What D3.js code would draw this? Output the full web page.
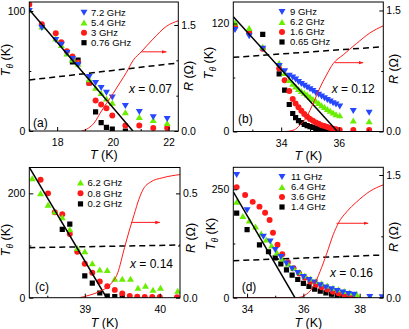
<!DOCTYPE html>
<html lang="en">
<head>
<meta charset="UTF-8">
<title>T_theta vs T, four dopings</title>
<script src="https://d3js.org/d3.v7.min.js"></script>
<style>
  body { margin: 0; background: #fff; }
  svg { display: block; font-family: "Liberation Sans", Arial, Helvetica, sans-serif; }
</style>
</head>
<body>
<svg id="chart" width="409" height="329"></svg>
<script>
// ---- panel (a), x = 0.07 ----
const aLabels = ["7.2 GHz", "5.4 GHz", "3 GHz", "0.76 GHz"];
const a72 = [[17.0,100],[17.45,86],[17.95,76],[18.15,72],[18.35,65],[18.55,60],[18.75,55],[19.15,45],[19.38,40],[19.58,36],[19.77,32],[19.98,28],[20.45,21],[20.95,16],[21.45,11.5],[21.95,10]];
const a54 = [[17.0,101],[17.45,87],[17.95,77],[18.15,71.5],[18.35,64.5],[18.55,59.5],[18.75,56],[19.15,43],[19.38,36],[19.58,31.5],[19.77,27],[19.98,23.5],[20.45,15.5],[20.95,11.5],[21.45,9],[21.95,6.5]];
const a3 = [[17.0,105.5],[17.45,89],[17.95,81.5],[18.15,74],[18.35,66.5],[18.55,62],[18.75,57],[19.15,40],[19.38,25.5],[19.58,22],[19.77,19],[19.98,13],[20.45,4.5],[20.95,4.5],[21.45,2.5],[21.95,2.5]];
const a076 = [[18.55,57.5],[18.75,59],[19.15,40],[19.38,16],[19.58,7],[19.77,3],[19.98,1.5],[20.45,0]];
const aFit = [[17.0,101],[20.72,0]];
const aDash = [[17.0,42.5],[22.35,56.7]];
const aR = [[18.88,0],[19.12,0.04],[19.36,0.13],[19.54,0.25],[19.77,0.39],[20.01,0.53],[20.25,0.68],[20.49,0.83],[20.73,1.0],[21.02,1.12],[21.44,1.3],[21.92,1.48],[22.35,1.56]];

// ---- panel (b), x = 0.12 ----
const bLabels = ["9 GHz", "6.2 GHz", "1.6 GHz", "0.65 GHz"];
const b9 = [[32.4,113],[32.89,106],[33.36,92],[33.93,73],[34.12,67],[34.28,62],[34.4,60],[34.5,58],[34.6,55],[34.7,53],[34.8,51],[34.9,49],[35.0,47],[35.1,45],[35.2,43],[35.3,41],[35.4,39],[35.5,37],[35.6,35],[35.7,33.5],[35.8,31.5],[35.9,30],[36.03,28],[36.5,23],[37.05,21]];
const b62 = [[32.4,121],[32.89,115],[33.36,94],[33.93,76],[34.12,65],[34.28,57],[34.4,53],[34.5,50],[34.6,47],[34.7,45],[34.8,43],[34.9,41],[35.0,38.5],[35.1,36],[35.2,34],[35.3,31.5],[35.4,29],[35.5,27],[35.6,25],[35.7,23],[35.8,21],[35.9,19],[36.03,18],[36.5,12],[37.05,11.3]];
const b16 = [[32.4,117],[32.89,110],[33.36,92],[33.93,70],[34.12,57],[34.28,45],[34.4,36],[34.5,31],[34.6,27],[34.7,23],[34.8,19.5],[34.9,16.5],[35.0,14],[35.1,12],[35.2,10],[35.3,8.5],[35.4,7],[35.5,6],[35.6,5],[35.7,4],[35.8,3.2],[35.9,2.6],[36.03,1.8],[36.5,1.7],[37.05,1.7]];
const b065 = [[33.36,108],[33.93,64],[34.12,46],[34.28,30],[34.4,20],[34.5,15.5],[34.6,12],[34.7,10],[34.8,8],[34.9,6.5],[35.0,5.5],[35.1,4.5],[35.2,3.5],[35.3,2.8],[35.4,2.2],[35.5,1.6],[35.6,1.2],[35.7,0.8],[35.8,0.5],[35.9,0.3]];
const bFit = [[32.34,127.5],[35.95,0]];
const bDash = [[32.34,82.4],[37.54,94.2]];
const bR = [[32.34,0],[34.11,0],[34.45,0.02],[34.65,0.08],[34.88,0.18],[35.11,0.35],[35.34,0.54],[35.57,0.7],[35.8,0.84],[36.15,0.95],[36.61,1.09],[37.07,1.22],[37.54,1.31]];

// ---- panel (c), x = 0.14 ----
const cLabels = ["6.2 GHz", "0.8 GHz", "0.2 GHz"];
const c62 = [[38.3,229],[38.41,200],[38.51,178],[38.6,165],[38.7,154],[38.8,131],[38.9,95],[39.0,89],[39.1,66],[39.2,54],[39.3,53],[39.4,36],[39.5,36],[39.61,36],[39.71,19],[39.81,22.5],[39.91,15],[40.01,19],[40.24,13]];
const c08 = [[38.41,226],[38.51,200],[38.6,164],[38.7,160],[38.8,122],[38.9,88],[39.0,65],[39.1,48],[39.2,31],[39.3,22],[39.4,15],[39.5,8],[39.6,3.5],[39.7,2],[39.8,1.5],[39.9,1.5],[40.0,1.5],[40.23,1]];
const c02 = [[38.7,131],[38.8,141],[39.0,42],[39.1,28],[39.2,9],[39.3,3],[39.4,2],[39.5,1]];
const cFit = [[38.26,250],[39.29,0]];
const cDash = [[38.26,95.8],[40.27,101]];
const cR = [[38.93,0],[39.07,0.013],[39.2,0.03],[39.33,0.06],[39.44,0.12],[39.53,0.24],[39.6,0.33],[39.66,0.4],[39.72,0.47],[39.78,0.52],[39.88,0.555],[40.04,0.575],[40.27,0.59]];

// ---- panel (d), x = 0.16 ----
const dLabels = ["11 GHz", "6.4 GHz", "3.6 GHz", "1.4 GHz"];
const d11 = [[33.63,283],[34.0,202],[34.58,141],[34.82,130],[35.0,110],[35.2,94],[35.4,79],[35.6,67],[35.8,57],[36.0,48],[36.2,41],[36.4,35],[36.6,29],[36.8,24],[37.0,19.5],[37.2,15.5],[37.4,12],[37.6,9],[37.8,7],[38.36,2],[38.8,1]];
const d64 = [[33.63,221],[33.85,188],[34.08,178],[34.3,164],[34.5,148],[34.68,134],[34.87,120],[35.06,104],[35.25,90],[35.45,78],[35.65,68],[35.85,59],[36.05,51],[36.25,44],[36.45,38],[36.65,33],[36.85,28],[37.05,23],[37.25,19],[37.45,15],[37.65,12],[37.89,8.5],[38.36,2.3],[38.8,0.5]];
const d36 = [[33.63,255],[33.93,237],[34.2,221],[34.44,210],[34.64,196],[34.8,179],[34.92,150],[35.08,122],[35.25,100],[35.45,82],[35.65,68],[35.85,56],[36.05,46],[36.25,37],[36.45,30],[36.65,24],[36.85,19],[37.05,14],[37.25,10],[37.45,7],[37.65,5],[37.85,3]];
const d14 = [[33.63,195],[34.0,157],[34.44,122],[34.76,106],[35.0,92],[35.2,78],[35.4,64],[35.6,52],[35.8,42],[36.0,33],[36.2,26],[36.4,20],[36.6,15],[36.8,11],[37.0,8],[37.2,5],[37.4,3.5],[37.6,2],[37.8,1]];
const dFit = [[33.51,244],[35.7,0]];
const dDash = [[33.51,85.3],[38.84,98.5]];
const dR = [[33.51,0],[35.76,0],[36.12,0.045],[36.35,0.135],[36.59,0.318],[36.83,0.54],[37.06,0.77],[37.24,0.91],[37.54,1.05],[37.89,1.17],[38.36,1.3],[38.84,1.38]];

const BLUE = "#2646ff", GREEN = "#6aee00", RED = "#ff1a1a";

const shapes = {
  down: "M-3.5,-2.9L3.5,-2.9L0,3.1Z",
  up: "M-3.5,2.9L3.5,2.9L0,-3.1Z",
  circle: d3.symbol(d3.symbolCircle, 28)(),
  square: "M-2.6,-2.6H2.6V2.6H-2.6Z"
};

const panels = [
  { id: "a", left: 29.3, right: 178.3, top: 2, bottom: 131,
    xDomain: [17, 22.35], yDomain: [0, 107.5], rDomain: [0, 1.825],
    xMajor: [18, 20, 22], xMinor: [17, 19, 21], yMajor: [0, 100], yMinor: [50],
    rMajor: [0, 1.5], rMinor: [0.5, 1.0], xPad: 8, titleDy: 28,
    series: [
      { data: a72, shape: "down", color: BLUE },
      { data: a54, shape: "up", color: GREEN },
      { data: a3, shape: "circle", color: RED },
      { data: a076, shape: "square", color: "#000" }
    ],
    labels: aLabels, legend: { mx: 84, tx: 91, y: 12.7, step: 10 },
    fit: aFit, dash: aDash, rCurve: aR, arrow: [21.02, 21.92, 1.12],
    xText: { x: 129, y: 93, val: "0.07" }, letter: { x: 33, y: 127, text: "(a)" },
    yTitle: { x: 10, y: 60 }, rTitleY: 76 },
  { id: "b", left: 233.3, right: 383.3, top: 2, bottom: 131.5,
    xDomain: [32.34, 37.54], yDomain: [0, 143.9], rDomain: [0, 1.605],
    xMajor: [34, 36], xMinor: [33, 35, 37], yMajor: [0, 120], yMinor: [60],
    rMajor: [0, 1.5], rMinor: [0.75], xPad: 8, titleDy: 28,
    series: [
      { data: b9, shape: "down", color: BLUE },
      { data: b62, shape: "up", color: GREEN },
      { data: b16, shape: "circle", color: RED },
      { data: b065, shape: "square", color: "#000" }
    ],
    labels: bLabels, legend: { mx: 282, tx: 290, y: 12, step: 10 },
    fit: bFit, dash: bDash, rCurve: bR, arrow: [35.86, 36.84, 0.853],
    xText: { x: 331.7, y: 92.5, val: "0.12" }, letter: { x: 238, y: 123, text: "(b)" },
    yTitle: { x: 213, y: 63 }, rTitleY: 69 },
  { id: "c", left: 29.3, right: 180, top: 167.5, bottom: 297.7,
    xDomain: [38.26, 40.27], yDomain: [0, 249.6], rDomain: [0, 0.624],
    xMajor: [39, 40], xMinor: [38.5, 39.5], yMajor: [0, 200], yMinor: [100],
    rMajor: [0, 0.5], rMinor: [0.25], xPad: 7.5, titleDy: 29.5,
    series: [
      { data: c62, shape: "up", color: GREEN },
      { data: c08, shape: "circle", color: RED },
      { data: c02, shape: "square", color: "#000" }
    ],
    labels: cLabels, legend: { mx: 80.5, tx: 87.5, y: 182.5, step: 10.7 },
    fit: cFit, dash: cDash, rCurve: cR, arrow: [39.62, 40.0, 0.361],
    xText: { x: 130, y: 268, val: "0.14" }, letter: { x: 35, y: 291, text: "(c)" },
    yTitle: { x: 10, y: 240 }, rTitleY: 238 },
  { id: "d", left: 233.3, right: 383.3, top: 167.3, bottom: 297.7,
    xDomain: [33.51, 38.84], yDomain: [0, 300.7], rDomain: [0, 1.594],
    xMajor: [34, 36, 38], xMinor: [35, 37], yMajor: [0, 250], yMinor: [125],
    rMajor: [0, 1.5], rMinor: [0.75], xPad: 7.5, titleDy: 29.5,
    series: [
      { data: d11, shape: "down", color: BLUE },
      { data: d64, shape: "up", color: GREEN },
      { data: d36, shape: "circle", color: RED },
      { data: d14, shape: "square", color: "#000" }
    ],
    labels: dLabels, legend: { mx: 282, tx: 291, y: 177, step: 10 },
    fit: dFit, dash: dDash, rCurve: dR, arrow: [37.18, 38.3, 0.91],
    xText: { x: 330, y: 277, val: "0.16" }, letter: { x: 241.7, y: 291, text: "(d)" },
    yTitle: { x: 215, y: 234 }, rTitleY: 237 }
];

const svg = d3.select("#chart");

// arrow head for the "R" arrows
svg.append("defs").append("marker")
  .attr("id", "head").attr("viewBox", "0 0 10 10").attr("refX", 9).attr("refY", 5)
  .attr("markerWidth", 5).attr("markerHeight", 5).attr("orient", "auto")
  .append("path").attr("d", "M0,1.5L10,5L0,8.5Z").attr("fill", RED);

function styleAxis(sel, size) {
  sel.select(".domain").remove();
  sel.selectAll("line").attr("stroke", "#000");
  sel.selectAll("text").attr("fill", "#000").attr("font-size", size)
    .attr("font-family", "Liberation Sans, Arial, sans-serif");
}

function drawPanel(p) {
  const x = d3.scaleLinear().domain(p.xDomain).range([p.left, p.right]);
  const y = d3.scaleLinear().domain(p.yDomain).range([p.bottom, p.top]);
  const r = d3.scaleLinear().domain(p.rDomain).range([p.bottom, p.top]);
  const g = svg.append("g");

  g.append("clipPath").attr("id", "clip-" + p.id).append("rect")
    .attr("x", p.left).attr("y", p.top)
    .attr("width", p.right - p.left).attr("height", p.bottom - p.top);
  const plot = g.append("g").attr("clip-path", `url(#clip-${p.id})`);

  // markers, last legend entry drawn first
  p.series.slice().reverse().forEach(s => {
    plot.append("g").selectAll("path").data(s.data).join("path")
      .attr("transform", d => `translate(${x(d[0])},${y(d[1])})`)
      .attr("d", shapes[s.shape]).attr("fill", s.color);
  });

  const tLine = d3.line().x(d => x(d[0])).y(d => y(d[1]));
  plot.append("path").datum(p.fit).attr("d", tLine)
    .attr("fill", "none").attr("stroke", "#000").attr("stroke-width", 1.5);
  plot.append("path").datum(p.dash).attr("d", tLine)
    .attr("fill", "none").attr("stroke", "#000").attr("stroke-width", 1.5)
    .attr("stroke-dasharray", "6,4");

  plot.append("path").datum(p.rCurve)
    .attr("d", d3.line().curve(d3.curveMonotoneX).x(d => x(d[0])).y(d => r(d[1])))
    .attr("fill", "none").attr("stroke", RED).attr("stroke-width", 1);

  g.append("line")
    .attr("x1", x(p.arrow[0])).attr("x2", x(p.arrow[1]))
    .attr("y1", r(p.arrow[2])).attr("y2", r(p.arrow[2]))
    .attr("stroke", RED).attr("stroke-width", 1).attr("marker-end", "url(#head)");

  // frame
  g.append("rect").attr("x", p.left).attr("y", p.top)
    .attr("width", p.right - p.left).attr("height", p.bottom - p.top)
    .attr("fill", "none").attr("stroke", "#000").attr("stroke-width", 1);

  // axes, ticks pointing inward
  g.append("g").attr("transform", `translate(0,${p.bottom})`)
    .call(d3.axisBottom(x).tickValues(p.xMajor).tickSize(-4).tickPadding(p.xPad).tickFormat(d3.format("d")))
    .call(s => styleAxis(s, 10.5));
  g.append("g").attr("transform", `translate(0,${p.bottom})`)
    .call(d3.axisBottom(x).tickValues(p.xMinor).tickSize(-2).tickFormat(""))
    .call(s => styleAxis(s, 10.5));
  g.append("g").attr("transform", `translate(${p.left},0)`)
    .call(d3.axisLeft(y).tickValues(p.yMajor).tickSize(-4).tickPadding(4).tickFormat(d3.format("d")))
    .call(s => styleAxis(s, 10.5));
  g.append("g").attr("transform", `translate(${p.left},0)`)
    .call(d3.axisLeft(y).tickValues(p.yMinor).tickSize(-2).tickFormat(""))
    .call(s => styleAxis(s, 10.5));
  g.append("g").attr("transform", `translate(${p.right},0)`)
    .call(d3.axisRight(r).tickValues(p.rMajor).tickSize(-4).tickPadding(3).tickFormat(d3.format(".1f")))
    .call(s => styleAxis(s, 10.5));
  g.append("g").attr("transform", `translate(${p.right},0)`)
    .call(d3.axisRight(r).tickValues(p.rMinor).tickSize(-2).tickFormat(""))
    .call(s => styleAxis(s, 10.5));

  // axis titles
  const xt = g.append("text").attr("x", (p.left + p.right) / 2).attr("y", p.bottom + p.titleDy)
    .attr("text-anchor", "middle").attr("font-size", 12.5);
  xt.append("tspan").attr("font-style", "italic").text("T");
  xt.append("tspan").text(" (K)");

  const yt = g.append("text").attr("transform", `translate(${p.yTitle.x},${p.yTitle.y}) rotate(-90)`)
    .attr("text-anchor", "middle").attr("font-size", 12.5);
  yt.append("tspan").attr("font-style", "italic").text("T");
  yt.append("tspan").attr("font-style", "italic").attr("font-size", 8.5).attr("dy", 3).text("θ");
  yt.append("tspan").attr("dy", -3).text(" (K)");

  const rt = g.append("text").attr("transform", `translate(${p.right + 15},${p.rTitleY}) rotate(-90)`)
    .attr("text-anchor", "middle").attr("font-size", 12.5);
  rt.append("tspan").attr("font-style", "italic").text("R");
  rt.append("tspan").text(" (Ω)");

  // legend
  p.series.forEach((s, i) => {
    const ly = p.legend.y + i * p.legend.step;
    g.append("path").attr("transform", `translate(${p.legend.mx},${ly})`)
      .attr("d", shapes[s.shape]).attr("fill", s.color);
    g.append("text").attr("x", p.legend.tx).attr("y", ly + 3.4)
      .attr("font-size", 9.5).text(p.labels[i]);
  });

  // doping label and panel letter
  const xl = g.append("text").attr("x", p.xText.x).attr("y", p.xText.y).attr("font-size", 12);
  xl.append("tspan").attr("font-style", "italic").text("x");
  xl.append("tspan").text(" = " + p.xText.val);

  g.append("text").attr("x", p.letter.x).attr("y", p.letter.y)
    .attr("font-size", 12).text(p.letter.text);
}

panels.forEach(drawPanel);
</script>
</body>
</html>
